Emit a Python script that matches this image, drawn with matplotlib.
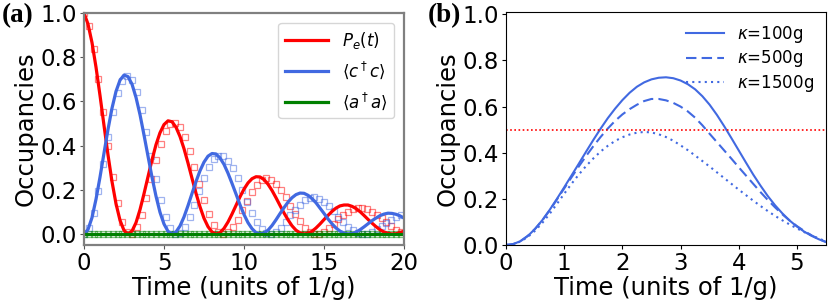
import matplotlib
matplotlib.use("Agg")
import matplotlib.pyplot as plt
import numpy as np

# ---------------- data: panel (a) ----------------
t_line = np.linspace(0, 20, 81)
pe_line = [1.000, 0.950, 0.866, 0.755, 0.627, 0.491, 0.358, 0.237, 0.137, 0.062,
           0.016, 0.000, 0.013, 0.051, 0.110, 0.182, 0.259, 0.335, 0.404, 0.458,
           0.495, 0.512, 0.508, 0.483, 0.441, 0.386, 0.321, 0.252, 0.184, 0.123,
           0.071, 0.033, 0.009, 0.000, 0.006, 0.025, 0.054, 0.090, 0.129, 0.168,
           0.203, 0.231, 0.250, 0.259, 0.258, 0.246, 0.225, 0.197, 0.164, 0.129,
           0.095, 0.064, 0.037, 0.017, 0.005, 0.000, 0.003, 0.012, 0.027, 0.045,
           0.065, 0.084, 0.102, 0.117, 0.127, 0.131, 0.131, 0.125, 0.115, 0.101,
           0.084, 0.066, 0.049, 0.033, 0.019, 0.009, 0.003, 0.000, 0.001, 0.006,
           0.013]
cc_line = [0.000, 0.020, 0.074, 0.157, 0.257, 0.366, 0.473, 0.569, 0.645, 0.696,
           0.719, 0.712, 0.678, 0.618, 0.540, 0.448, 0.352, 0.257, 0.171, 0.098,
           0.045, 0.012, 0.000, 0.009, 0.036, 0.077, 0.128, 0.183, 0.237, 0.286,
           0.325, 0.352, 0.364, 0.362, 0.344, 0.315, 0.275, 0.229, 0.181, 0.132,
           0.088, 0.051, 0.024, 0.006, 0.000, 0.004, 0.017, 0.038, 0.064, 0.092,
           0.119, 0.144, 0.164, 0.178, 0.185, 0.184, 0.175, 0.160, 0.141, 0.117,
           0.093, 0.068, 0.046, 0.027, 0.013, 0.004, 0.000, 0.002, 0.008, 0.019,
           0.032, 0.046, 0.060, 0.072, 0.083, 0.090, 0.094, 0.093, 0.089, 0.082,
           0.072]
aa_line = [0.0] * 81

t_sq = np.linspace(0, 19.8, 67)
pe_sq = [1.000, 0.940, 0.836, 0.702, 0.550, 0.397, 0.256, 0.139, 0.055, 0.009,
         0.002, 0.030, 0.086, 0.163, 0.249, 0.334, 0.409, 0.465, 0.497, 0.503,
         0.482, 0.439, 0.377, 0.304, 0.227, 0.154, 0.090, 0.042, 0.011, 0.000,
         0.007, 0.030, 0.065, 0.107, 0.150, 0.190, 0.222, 0.243, 0.251, 0.245,
         0.228, 0.200, 0.166, 0.128, 0.090, 0.057, 0.029, 0.010, 0.001, 0.001,
         0.010, 0.025, 0.045, 0.066, 0.087, 0.100, 0.111, 0.117, 0.117, 0.112,
         0.101, 0.088, 0.071, 0.052, 0.034, 0.019, 0.008]
cc_sq = [0.000, 0.025, 0.094, 0.195, 0.316, 0.438, 0.550, 0.638, 0.694, 0.714,
         0.696, 0.643, 0.563, 0.463, 0.355, 0.249, 0.153, 0.077, 0.026, 0.002,
         0.005, 0.031, 0.076, 0.133, 0.194, 0.253, 0.302, 0.337, 0.354, 0.352,
         0.332, 0.297, 0.251, 0.198, 0.144, 0.094, 0.052, 0.021, 0.004, 0.000,
         0.009, 0.028, 0.054, 0.085, 0.108, 0.133, 0.152, 0.162, 0.165, 0.159,
         0.146, 0.126, 0.103, 0.078, 0.056, 0.033, 0.016, 0.005, 0.000, 0.002,
         0.010, 0.022, 0.036, 0.051, 0.065, 0.077, 0.085]
aa_sq = [0.0] * 67

labels_a = [r"$P_e(t)$", r"$\langle c^\dagger c\rangle$", r"$\langle a^\dagger a\rangle$"]

# ---------------- data: panel (b) ----------------
t_b = np.linspace(0, 5.5, 45)
occ_k100 = [0.000, 0.004, 0.017, 0.039, 0.070, 0.108, 0.152, 0.200, 0.250, 0.301,
            0.352, 0.404, 0.455, 0.504, 0.550, 0.591, 0.628, 0.660, 0.686, 0.705,
            0.718, 0.725, 0.727, 0.723, 0.713, 0.697, 0.675, 0.645, 0.608, 0.564,
            0.515, 0.463, 0.410, 0.357, 0.305, 0.257, 0.212, 0.172, 0.137, 0.106,
            0.080, 0.058, 0.040, 0.025, 0.013]
occ_k500 = [0.000, 0.004, 0.017, 0.040, 0.070, 0.107, 0.150, 0.197, 0.245, 0.293,
            0.340, 0.385, 0.428, 0.468, 0.505, 0.538, 0.566, 0.589, 0.608, 0.624,
            0.633, 0.633, 0.627, 0.616, 0.600, 0.579, 0.552, 0.519, 0.482, 0.446,
            0.410, 0.374, 0.337, 0.301, 0.265, 0.229, 0.195, 0.163, 0.133, 0.106,
            0.082, 0.061, 0.042, 0.026, 0.013]
occ_k1500 = [0.000, 0.004, 0.015, 0.035, 0.062, 0.096, 0.135, 0.178, 0.222, 0.265,
             0.305, 0.342, 0.375, 0.405, 0.430, 0.451, 0.467, 0.479, 0.487, 0.490,
             0.488, 0.480, 0.468, 0.452, 0.432, 0.411, 0.388, 0.364, 0.340, 0.315,
             0.290, 0.265, 0.240, 0.216, 0.192, 0.169, 0.147, 0.126, 0.107, 0.089,
             0.072, 0.056, 0.042, 0.028, 0.016]
threshold = 0.5
labels_b = [r"$\kappa$=100g", r"$\kappa$=500g", r"$\kappa$=1500g"]

# ---------------- figure ----------------
W, H = 830, 305
fig = plt.figure(figsize=(W / 100, H / 100), dpi=100)

def box(l, t, r, b):
    return [l / W, 1 - b / H, (r - l) / W, (b - t) / H]

RED = "#ff0000"
BLUE = "royalblue"
GREEN = "green"
TICK_FS = 16.5
LAB_FS = 17.5

# panel (a)
ax = fig.add_axes(box(84, 13, 404, 245))
ax.plot(t_sq, pe_sq, ls="none", marker="s", ms=4.4, mfc="none", mec=RED, mew=0.9, alpha=0.5)
ax.plot(t_sq, cc_sq, ls="none", marker="s", ms=4.4, mfc="none", mec=BLUE, mew=0.9, alpha=0.5)
ax.plot(t_sq, aa_sq, ls="none", marker="s", ms=4.4, mfc="none", mec=GREEN, mew=0.9, alpha=0.5)
ax.plot(t_line, pe_line, color=RED, lw=2.3, label=labels_a[0])
ax.plot(t_line, cc_line, color=BLUE, lw=2.3, label=labels_a[1])
ax.plot(t_line, aa_line, color=GREEN, lw=2.3, label=labels_a[2])
ax.set_xlim(0, 20)
ax.set_ylim(-0.05, 1.0)
ax.set_xticks([0, 5, 10, 15, 20])
ax.set_yticks([0.0, 0.2, 0.4, 0.6, 0.8, 1.0])
ax.set_yticklabels(["0.0", "0.2", "0.4", "0.6", "0.8", "1.0"])
ax.tick_params(labelsize=TICK_FS, length=3, pad=2, color="#555555")
for s in ax.spines.values():
    s.set_color("#808080")
    s.set_linewidth(1.6)
ax.set_xlabel("Time (units of 1/g)", fontsize=LAB_FS, labelpad=1)
ax.set_ylabel("Occupancies", fontsize=LAB_FS, labelpad=2)
ax.legend(loc="upper right", fontsize=12, handlelength=2.6, labelspacing=0.55,
          borderaxespad=0.6, handletextpad=0.8, framealpha=0.8)

# panel (b)
bx = fig.add_axes(box(506, 12, 826, 245))
bx.plot(t_b, occ_k100, color=BLUE, lw=1.5, ls="-", label=labels_b[0])
bx.plot(t_b, occ_k500, color=BLUE, lw=1.5, ls=(0, (5, 2.5)), label=labels_b[1])
bx.plot(t_b, occ_k1500, color=BLUE, lw=1.5, ls=(0, (1, 2)), label=labels_b[2])
bx.axhline(threshold, color=RED, lw=1.2, ls=(0, (1, 1.5)))
bx.set_xlim(0, 5.5)
bx.set_ylim(0, 1.01)
bx.set_xticks([0, 1, 2, 3, 4, 5])
bx.set_yticks([0.0, 0.2, 0.4, 0.6, 0.8, 1.0])
bx.set_yticklabels(["0.0", "0.2", "0.4", "0.6", "0.8", "1.0"])
bx.tick_params(labelsize=TICK_FS, length=3, pad=2)
bx.set_xlabel("Time (units of 1/g)", fontsize=LAB_FS, labelpad=1)
bx.set_ylabel("Occupancies", fontsize=LAB_FS, labelpad=2)
bx.legend(loc="upper right", fontsize=12, frameon=False, handlelength=2.3,
          labelspacing=0.22, borderaxespad=0.3)

fig.text(18 / W, 1 - 16 / H, "(a)", family="Liberation Serif", fontsize=19.5,
         fontweight="bold", ha="center", va="center")
fig.text(444 / W, 1 - 16 / H, "(b)", family="Liberation Serif", fontsize=19.5,
         fontweight="bold", ha="center", va="center")

fig.savefig("out.png", dpi=100)
